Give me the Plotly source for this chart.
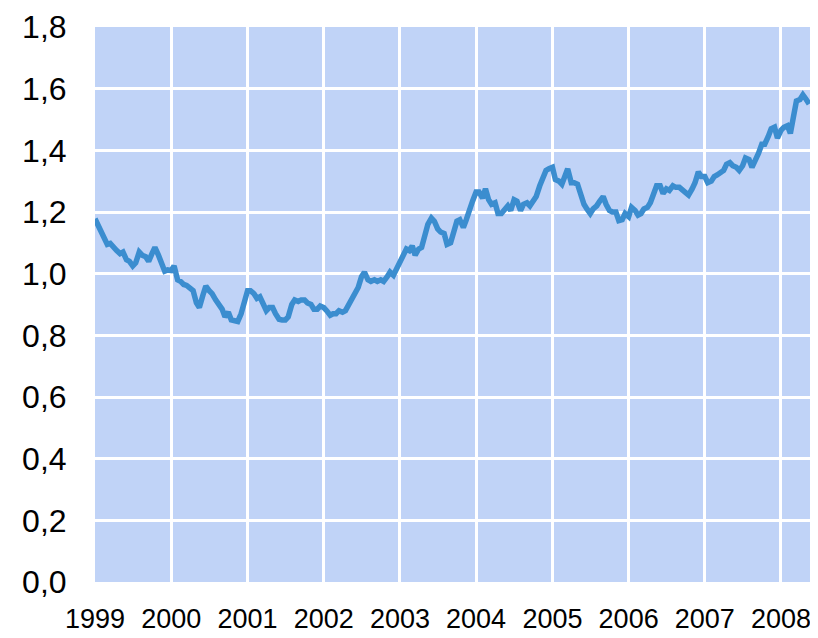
import pandas as pd
import plotly.graph_objects as go

# Semi-monthly readings (1st and 15th of each month), EUR/USD-like series
v1999 = [1.178, 1.160, 1.135, 1.115, 1.095, 1.098, 1.082, 1.075, 1.065, 1.070, 1.045, 1.040,
         1.025, 1.035, 1.070, 1.060, 1.055, 1.040, 1.065, 1.085, 1.060, 1.035, 1.008, 1.012]
v2000 = [1.010, 1.025, 0.980, 0.975, 0.965, 0.962, 0.955, 0.945, 0.905, 0.890, 0.930, 0.960,
         0.945, 0.935, 0.915, 0.900, 0.885, 0.860, 0.875, 0.850, 0.845, 0.845, 0.870, 0.900]
v2001 = [0.945, 0.945, 0.935, 0.920, 0.925, 0.905, 0.880, 0.890, 0.890, 0.870, 0.852, 0.850,
         0.850, 0.860, 0.900, 0.915, 0.910, 0.915, 0.915, 0.905, 0.900, 0.885, 0.885, 0.895]
v2002 = [0.890, 0.880, 0.865, 0.870, 0.870, 0.880, 0.875, 0.880, 0.900, 0.915, 0.935, 0.955,
         0.990, 1.005, 0.980, 0.975, 0.980, 0.975, 0.980, 0.975, 0.990, 1.005, 0.995, 1.015]
v2003 = [1.040, 1.060, 1.080, 1.075, 1.090, 1.060, 1.080, 1.085, 1.120, 1.160, 1.180, 1.170,
         1.145, 1.135, 1.130, 1.095, 1.100, 1.130, 1.170, 1.175, 1.150, 1.175, 1.215, 1.235]
v2004 = [1.265, 1.265, 1.245, 1.275, 1.240, 1.225, 1.230, 1.195, 1.195, 1.205, 1.220, 1.205,
         1.240, 1.235, 1.205, 1.225, 1.230, 1.220, 1.240, 1.250, 1.285, 1.310, 1.335, 1.340]
v2005 = [1.345, 1.305, 1.300, 1.290, 1.320, 1.340, 1.295, 1.295, 1.290, 1.260, 1.225, 1.210,
         1.195, 1.210, 1.220, 1.235, 1.250, 1.225, 1.205, 1.200, 1.200, 1.172, 1.175, 1.195]
v2006 = [1.185, 1.215, 1.205, 1.190, 1.195, 1.210, 1.215, 1.230, 1.265, 1.285, 1.285, 1.260,
         1.275, 1.270, 1.285, 1.280, 1.280, 1.270, 1.265, 1.255, 1.275, 1.295, 1.330, 1.315]
v2007 = [1.315, 1.295, 1.300, 1.315, 1.320, 1.325, 1.335, 1.355, 1.360, 1.350, 1.345, 1.335,
         1.350, 1.375, 1.370, 1.345, 1.365, 1.390, 1.420, 1.420, 1.445, 1.470, 1.475, 1.440]
v2008 = [1.465, 1.475, 1.480, 1.455, 1.510, 1.560, 1.565, 1.580, 1.565, 1.550]

values = v1999 + v2000 + v2001 + v2002 + v2003 + v2004 + v2005 + v2006 + v2007 + v2008
dates = pd.date_range("1999-01-01", periods=len(values), freq="SMS")

year_ticks = [f"{y}-01-01" for y in range(1999, 2009)]
year_labels = [str(y) for y in range(1999, 2009)]
y_ticks = [0.0, 0.2, 0.4, 0.6, 0.8, 1.0, 1.2, 1.4, 1.6, 1.8]

fig = go.Figure()
fig.add_trace(go.Scatter(
    x=dates, y=values, mode="lines",
    line=dict(color="rgb(59,141,207)", width=5.5),
    hoverinfo="skip",
))

# the page adds an 8px body margin, so the figure is 8px smaller than the window
fig.update_layout(
    width=810, height=630,
    margin=dict(l=87, r=8, t=19, b=56, autoexpand=False),
    paper_bgcolor="white",
    plot_bgcolor="rgb(192,211,247)",
    separators=",.",
    showlegend=False,
    font=dict(family="Liberation Sans, Arial, sans-serif", color="black"),
)
fig.update_xaxes(
    type="date",
    range=["1999-01-01", "2008-05-19"],
    tickvals=year_ticks, ticktext=year_labels,
    showgrid=True, gridcolor="white", gridwidth=3,
    ticks="outside", ticklen=13, tickcolor="rgba(0,0,0,0)",
    tickfont=dict(size=27),
    showline=False, zeroline=False, automargin=False,
)
fig.update_yaxes(
    range=[0, 1.8],
    tickvals=y_ticks, tickformat=".1f",
    showgrid=True, gridcolor="white", gridwidth=3,
    ticks="outside", ticklen=21, tickcolor="rgba(0,0,0,0)",
    tickfont=dict(size=32),
    showline=False, zeroline=False, automargin=False,
)

fig.write_html("out.html")
